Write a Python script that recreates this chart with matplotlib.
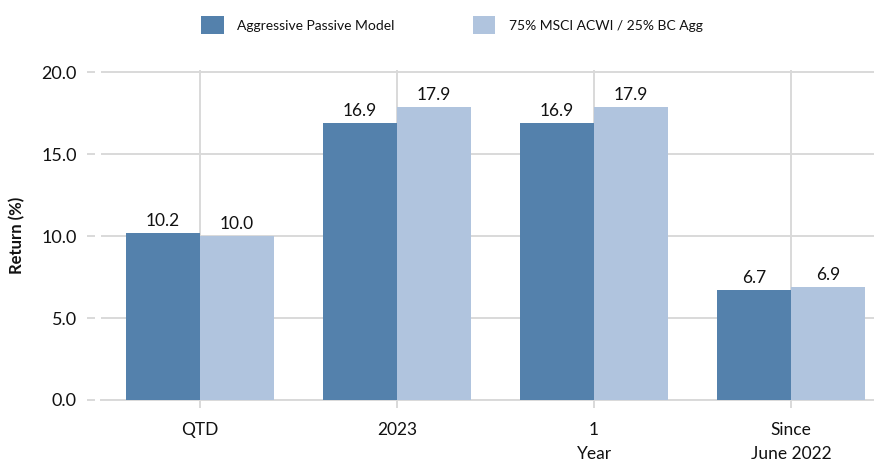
import matplotlib
matplotlib.use("Agg")
import matplotlib.pyplot as plt
import numpy as np
from matplotlib.patches import Patch

categories = ["QTD", "2023", "1\nYear", "Since\nJune 2022"]
series_names = ["Aggressive Passive Model", "75% MSCI ACWI / 25% BC Agg"]
model_vals = [10.2, 16.9, 16.9, 6.7]
bench_vals = [10.0, 17.9, 17.9, 6.9]
yticks = [0.0, 5.0, 10.0, 15.0, 20.0]

dark = "#5481AC"
light = "#B0C4DE"
grid_c = "#D9D9D9"
txt_c = "#111111"

plt.rcParams['font.family'] = ['Lato', 'DejaVu Sans']

fig = plt.figure(figsize=(8.74, 4.62), dpi=100)
ax = fig.add_axes([101/874, (462-400)/462, 773/874, 330/462])

x = np.arange(len(categories))
w = 0.375
b1 = ax.bar(x - w/2, model_vals, w, color=dark, zorder=3)
b2 = ax.bar(x + w/2, bench_vals, w, color=light, zorder=3)
for bars in (b1, b2):
    ax.bar_label(bars, fmt="%.1f", padding=3, fontsize=12.5, color=txt_c)

ax.grid(True, color=grid_c, linewidth=1.4, zorder=0)
ax.set_axisbelow(True)
for s in ["top", "right", "left"]:
    ax.spines[s].set_visible(False)
ax.spines["bottom"].set_color(grid_c)
ax.spines["bottom"].set_linewidth(1.4)
ax.spines["left"].set_position(("outward", 4))

ax.set_xlim(-0.503, 3.421)
ax.set_ylim(0, 20.15)
ax.set_yticks(yticks)
ax.set_yticklabels([f"{v:.1f}" for v in yticks])
ax.set_xticks(x)
ax.set_xticklabels(categories, linespacing=1.6, va="top")
ax.tick_params(axis="y", length=5.5, width=1.4, color=grid_c, pad=8,
               labelsize=13, labelcolor=txt_c)
ax.tick_params(axis="x", length=6, width=1.4, color=grid_c, pad=10,
               labelsize=12.5, labelcolor=txt_c)

fig.text(17/874, 1 - 235/462, "Return (%)", rotation=90, va="center", ha="center",
         fontsize=12, fontweight="bold", color=txt_c)

handles = [Patch(facecolor=dark), Patch(facecolor=light)]
fig.legend(handles, series_names, loc="center", bbox_to_anchor=(452/874, 1 - 25/462),
           ncol=2, frameon=False, fontsize=10, handlelength=1.6, handleheight=1.7,
           handletextpad=1.0, columnspacing=5.6, labelcolor=txt_c)

fig.savefig("out.png", dpi=100)
